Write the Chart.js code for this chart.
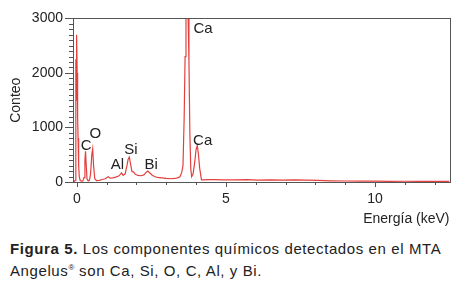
<!DOCTYPE html>
<html>
<head>
<meta charset="utf-8">
<script src="https://cdn.jsdelivr.net/npm/chart.js@4.4.0/dist/chart.umd.min.js"></script>
<style>
  body { margin: 0; background: #fff; width: 460px; height: 289px; overflow: hidden; font-family: "Liberation Sans", Arial, sans-serif; }
  #wrap { position: relative; width: 460px; height: 232px; }
  #caption { position: absolute; left: 10px; top: 239px; width: 450px; white-space: nowrap; font-size: 15px; letter-spacing: 0.6px; line-height: 19px; color: #222; }
</style>
</head>
<body>
<div id="wrap"><canvas id="eds"></canvas></div>
<div id="caption"><b>Figura 5.</b> Los componentes químicos detectados en el MTA<br>Angelus<sup style="font-size:8px;letter-spacing:0">®</sup> son Ca, Si, O, C, Al, y Bi.</div>
<script>
// Spectrum (keV, counts)
const energy = [-0.1, -0.05, -0.035, -0.025, -0.01, 0.01, 0.025, 0.04, 0.06, 0.08, 0.11, 0.15, 0.2, 0.24, 0.27, 0.29, 0.31, 0.34, 0.38, 0.42, 0.46, 0.5, 0.53, 0.56, 0.6, 0.66, 0.75, 0.85, 0.95, 1.05, 1.12, 1.2, 1.3, 1.4, 1.46, 1.5, 1.55, 1.62, 1.68, 1.72, 1.76, 1.8, 1.85, 1.9, 1.96, 2.05, 2.15, 2.25, 2.32, 2.38, 2.44, 2.52, 2.6, 2.7, 2.85, 3.0, 3.15, 3.3, 3.4, 3.46, 3.52, 3.56, 3.6, 3.63, 3.66, 3.69, 3.73, 3.76, 3.79, 3.82, 3.85, 3.9, 3.95, 4.0, 4.04, 4.08, 4.12, 4.18, 4.25, 4.4, 4.6, 4.9, 5.3, 5.7, 6.1, 6.5, 6.9, 7.3, 7.7, 8.1, 8.5, 9, 9.5, 10, 10.5, 11, 11.5, 12, 12.5];
const counts = [5, 30, 2250, 1500, 2700, 2000, 1200, 800, 300, 100, 30, 15, 20, 80, 400, 565, 350, 60, 20, 30, 150, 500, 608, 300, 60, 25, 30, 45, 60, 95, 70, 75, 90, 110, 140, 168, 120, 150, 300, 420, 457, 330, 190, 186, 140, 120, 115, 130, 175, 200, 170, 130, 100, 85, 75, 65, 60, 65, 80, 96, 180, 300, 1200, 2300, 3100, 5000, 3100, 2200, 900, 250, 96, 150, 350, 600, 669, 500, 250, 40, 40, 45, 45, 40, 38, 42, 36, 40, 35, 38, 34, 30, 22, 18, 15, 15, 12, 14, 12, 10, 10];

const xTicks = [0, 5, 10];
const yTicks = [0, 1000, 2000, 3000];

// Element labels and where they sit (keV, counts)
const peakNames = ['Ca', 'Ca', 'C', 'O', 'Al', 'Si', 'Bi'];
const peakAtE = [4.23, 4.22, 0.31, 0.62, 1.36, 1.81, 2.49];
const peakAtC = [2807, 759, 669, 891, 320, 591, 320];

const txt = '#222';
const frame = '#555';

const decorations = {
  id: 'decorations',
  afterDraw(chart) {
    const { ctx, chartArea: a, scales: { x, y } } = chart;
    ctx.save();
    ctx.strokeStyle = frame;
    ctx.lineWidth = 1;
    ctx.strokeRect(Math.round(a.left) + 0.5, Math.round(a.top) + 0.5, Math.round(a.right - a.left), Math.round(a.bottom - a.top));
    ctx.beginPath();
    for (let v = 0; v <= 3000; v += 100) {
      const py = Math.round(y.getPixelForValue(v)) + 0.5;
      const len = v % 1000 === 0 ? 8 : 4;
      ctx.moveTo(a.left - len, py);
      ctx.lineTo(a.left, py);
    }
    for (let v = 0; v <= 12; v += 1) {
      const px = Math.round(x.getPixelForValue(v)) + 0.5;
      const len = v % 5 === 0 ? 5 : 3;
      ctx.moveTo(px, a.bottom);
      ctx.lineTo(px, a.bottom + len);
    }
    ctx.stroke();

    ctx.fillStyle = txt;
    ctx.font = '15px "Liberation Sans", Arial, sans-serif';
    ctx.textAlign = 'center';
    ctx.textBaseline = 'middle';
    peakNames.forEach((name, i) => {
      ctx.fillText(name, x.getPixelForValue(peakAtE[i]), y.getPixelForValue(peakAtC[i]));
    });
    ctx.restore();
  }
};

const font14 = { family: '"Liberation Sans", Arial, sans-serif', size: 14 };

new Chart(document.getElementById('eds'), {
  type: 'line',
  data: {
    datasets: [{
      data: energy.map((e, i) => ({ x: e, y: counts[i] })),
      borderColor: '#e2403e',
      borderWidth: 1.2,
      pointRadius: 0,
      tension: 0,
      fill: false
    }]
  },
  options: {
    responsive: true,
    maintainAspectRatio: false,
    animation: false,
    layout: { padding: { top: 16, right: 10.5, left: 0, bottom: 0 } },
    plugins: { legend: { display: false }, tooltip: { enabled: false } },
    scales: {
      x: {
        type: 'linear',
        min: -0.13,
        max: 12.5,
        afterBuildTicks: s => { s.ticks = xTicks.map(v => ({ value: v })); },
        afterFit: s => { s.height = 50; },
        grid: { display: false, drawTicks: false },
        border: { display: false },
        ticks: { color: txt, font: font14, padding: 9, maxRotation: 0, callback: v => String(v) },
        title: { display: true, text: 'Energía (keV)', align: 'end', color: txt, font: font14, padding: { top: 0, bottom: 4 } }
      },
      y: {
        min: 0,
        max: 3000,
        afterBuildTicks: s => { s.ticks = yTicks.map(v => ({ value: v })); },
        afterFit: s => { s.width = 73; },
        grid: { display: false, drawTicks: false },
        border: { display: false },
        ticks: { color: txt, font: font14, padding: 10, callback: v => String(v) },
        title: { display: true, text: 'Conteo', color: txt, font: font14, padding: { top: 8, bottom: 0 } }
      }
    }
  },
  plugins: [decorations]
});
</script>
</body>
</html>
